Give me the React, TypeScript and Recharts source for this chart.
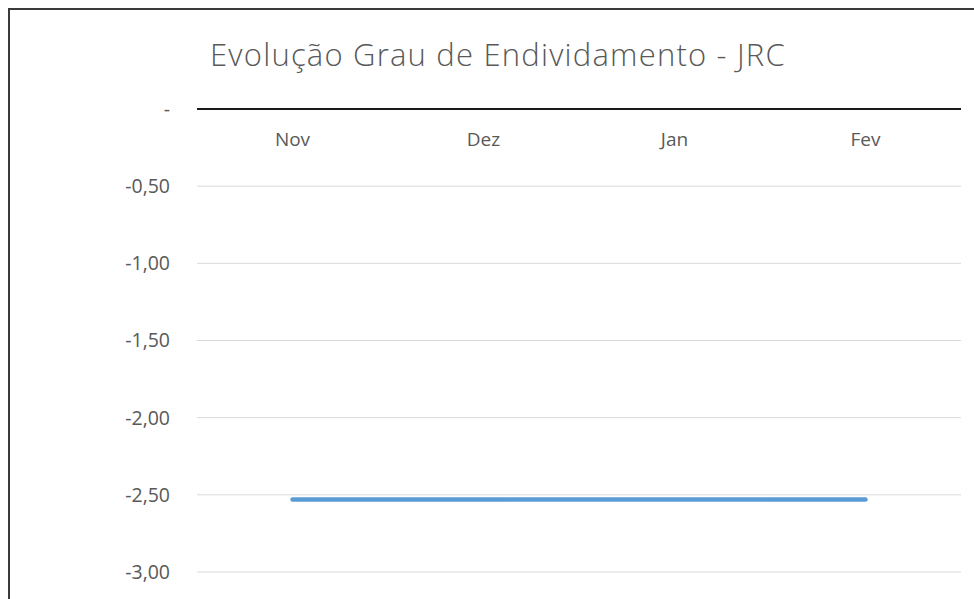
import { CartesianGrid, Line, LineChart, XAxis, YAxis } from 'recharts';

const months = ['Nov', 'Dez', 'Jan', 'Fev'];
const debtRatio = [-2.53, -2.53, -2.53, -2.53];
const yTicks = [0, -0.5, -1, -1.5, -2, -2.5, -3];

const data = months.map((month, i) => ({ month, value: debtRatio[i] }));

const FONT = '"Open Sans", "Noto Sans", sans-serif';
const TEXT = '#595959';

function formatTick(v: number): string {
  if (v === 0) return '-';
  return v.toFixed(2).replace('.', ',');
}

// Excel draws the category labels just under the zero line at the top
function MonthTick({ x, y, payload }: { x?: number; y?: number; payload?: { value: string } }) {
  return (
    <text
      x={x}
      y={(y ?? 0) + 38}
      textAnchor="middle"
      dominantBaseline="central"
      fontSize={19}
      fontFamily={FONT}
      fill={TEXT}
    >
      {payload?.value}
    </text>
  );
}

export default function App() {
  return (
    <div
      style={{
        position: 'fixed',
        left: 0,
        top: 0,
        width: 974,
        height: 599,
        overflow: 'hidden',
        background: '#fff',
      }}
    >
      <div
        style={{
          position: 'absolute',
          left: 8,
          top: 8,
          width: 1000,
          height: 660,
          border: '2px solid #3a3a3a',
          background: '#fff',
        }}
      >
        <div
          style={{
            position: 'absolute',
            left: 0,
            width: 976,
            top: 24,
            textAlign: 'center',
            fontFamily: FONT,
            fontWeight: 300,
            fontSize: 31,
            letterSpacing: '1.2px',
            color: TEXT,
            lineHeight: '40px',
          }}
        >
          Evolução Grau de Endividamento - JRC
        </div>
        <LineChart
          width={1000}
          height={660}
          data={data}
          margin={{ top: 69, right: 49, bottom: 98, left: 0 }}
        >
          <CartesianGrid vertical={false} stroke="#d9d9d9" strokeWidth={1} />
          <XAxis
            dataKey="month"
            orientation="top"
            height={30}
            padding={{ left: 95.5, right: 95.5 }}
            axisLine={{ stroke: '#1a1a1a', strokeWidth: 2 }}
            tickLine={false}
            tick={<MonthTick />}
            interval={0}
          />
          <YAxis
            width={187}
            domain={[-3, 0]}
            ticks={yTicks}
            tickFormatter={formatTick}
            axisLine={false}
            tickLine={false}
            tickMargin={21}
            tick={{ fontSize: 19.5, fontFamily: FONT, fill: TEXT }}
          />
          <Line
            dataKey="value"
            stroke="#5b9bd5"
            strokeWidth={4.5}
            strokeLinecap="round"
            dot={false}
            activeDot={false}
            isAnimationActive={false}
          />
        </LineChart>
      </div>
    </div>
  );
}
